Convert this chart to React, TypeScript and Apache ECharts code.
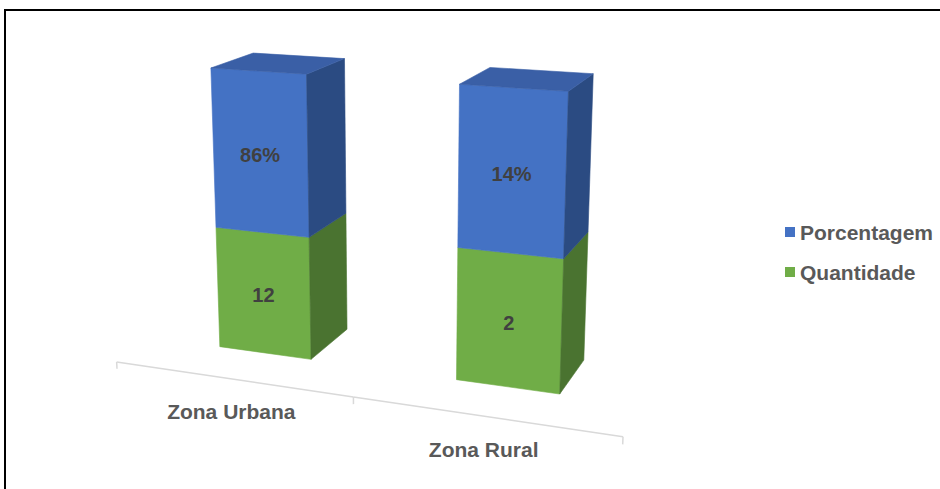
import { useEffect, useRef } from "react";
import * as echarts from "echarts";

// ---- data ----
const categories = ["Zona Urbana", "Zona Rural"];
const quantidadeLabels = ["12", "2"];
const porcentagemLabels = ["86%", "14%"];
// visible share of each column's height, in %
const quantidadeShare = [44, 46];
const porcentagemShare = [56, 54];
const legendOrder = ["Porcentagem", "Quantidade"];

// ---- view: perspective camera (3x4 projection, last entry 1)
// world: u = category units, h = 0..1 of the value axis, z = 0 front .. 1 back of a column
const CAM = [
  205.9184, -18.591833, 53.27382, 154.22333,
  10.307407, -276.9461, -11.07057, 337.47376,
  -0.058267316, -0.046504015, 0.054094706,
];
const BAR_WIDTH = 0.4; // gap width 150%
const FLOOR_FRONT_Z = -0.8;
const TICK_H = 0.025;

function project(X: number, Y: number, Z: number): number[] {
  const p = CAM;
  const w = p[8] * X + p[9] * Y + p[10] * Z + 1;
  return [(p[0] * X + p[1] * Y + p[2] * Z + p[3]) / w, (p[4] * X + p[5] * Y + p[6] * Z + p[7]) / w];
}

const FONT = "'Liberation Sans', Arial, sans-serif";

const COLORS = {
  Quantidade: { front: "#70AD47", side: "#4A7330", top: "#5E9439" },
  Porcentagem: { front: "#4472C4", side: "#2B4B82", top: "#3A5FA6" },
};

function makeSegmentRenderer(name: "Quantidade" | "Porcentagem", labels: string[], drawTop: boolean) {
  const col = COLORS[name];
  return (params: any, api: any) => {
    const i = api.value(0);
    const base = api.value(1);
    const top = api.value(2);
    const cs = params.coordSys;
    const band = api.size([1, 0])[0];
    const cTop = api.coord([i, top]);
    const cBase = api.coord([i, base]);
    const uC = (cTop[0] - cs.x) / band;
    const hTop = (cs.y + cs.height - cTop[1]) / cs.height;
    const hBase = (cs.y + cs.height - cBase[1]) / cs.height;
    const u0 = uC - BAR_WIDTH / 2;
    const u1 = uC + BAR_WIDTH / 2;
    const poly = (pts: number[][], fill: string) => ({
      type: "polygon",
      shape: { points: pts },
      style: { fill, stroke: fill, lineWidth: 0.6 },
    });
    const children: any[] = [
      poly([project(u0, hBase, 0), project(u1, hBase, 0), project(u1, hTop, 0), project(u0, hTop, 0)], col.front),
      poly([project(u1, hBase, 0), project(u1, hBase, 1), project(u1, hTop, 1), project(u1, hTop, 0)], col.side),
    ];
    if (drawTop) {
      children.push(
        poly([project(u0, hTop, 0), project(u1, hTop, 0), project(u1, hTop, 1), project(u0, hTop, 1)], col.top)
      );
    }
    const lp = project(uC, (hBase + hTop) / 2, 0);
    children.push({
      type: "text",
      x: lp[0],
      y: lp[1] + 2,
      style: {
        text: labels[i],
        fill: "#404040",
        font: `bold 20px ${FONT}`,
        align: "center",
        verticalAlign: "middle",
      },
    });
    return { type: "group", children };
  };
}

function renderAxis(params: any, api: any) {
  const i = api.value(0);
  const cs = params.coordSys;
  const band = api.size([1, 0])[0];
  const c = api.coord([i, 0]);
  const uC = (c[0] - cs.x) / band;
  const a = project(uC - 0.5, 0, FLOOR_FRONT_Z);
  const b = project(uC + 0.5, 0, FLOOR_FRONT_Z);
  const lineStyle = { stroke: "#D9D9D9", lineWidth: 1.5 };
  const children: any[] = [
    { type: "line", shape: { x1: a[0], y1: a[1], x2: b[0], y2: b[1] }, style: lineStyle },
  ];
  const ta = project(uC - 0.5, -TICK_H, FLOOR_FRONT_Z);
  children.push({ type: "line", shape: { x1: a[0], y1: a[1], x2: ta[0], y2: ta[1] }, style: lineStyle });
  if (i === categories.length - 1) {
    const tb = project(uC + 0.5, -TICK_H, FLOOR_FRONT_Z);
    children.push({ type: "line", shape: { x1: b[0], y1: b[1], x2: tb[0], y2: tb[1] }, style: lineStyle });
  }
  const m = project(uC, 0, FLOOR_FRONT_Z);
  children.push({
    type: "text",
    x: m[0],
    y: m[1] + 33,
    style: {
      text: categories[i],
      fill: "#595959",
      font: `bold 21px ${FONT}`,
      align: "center",
      verticalAlign: "middle",
    },
  });
  return { type: "group", children };
}

export default function App() {
  const ref = useRef<HTMLDivElement>(null);
  useEffect(() => {
    if (!ref.current) return;
    const chart = echarts.init(ref.current, undefined, { renderer: "svg" });
    const quantidadeData = categories.map((_, i) => [i, 0, quantidadeShare[i]]);
    const porcentagemData = categories.map((_, i) => [
      i,
      quantidadeShare[i],
      quantidadeShare[i] + porcentagemShare[i],
    ]);
    chart.setOption({
      animation: false,
      grid: { left: 0, right: 0, top: 0, bottom: 0 },
      xAxis: { type: "category", data: categories, show: false },
      yAxis: { type: "value", min: 0, max: 100, show: false },
      legend: {
        data: legendOrder,
        orient: "vertical",
        left: 785,
        top: 220,
        padding: 0,
        icon: "rect",
        itemWidth: 10,
        itemHeight: 10,
        itemGap: 16,
        selectedMode: false,
        textStyle: {
          color: "#595959",
          fontSize: 21,
          fontWeight: "bold",
          fontFamily: FONT,
          lineHeight: 24,
        },
      },
      graphic: [
        {
          type: "rect",
          shape: { x: 5, y: 10, width: 1000, height: 1000 },
          style: { fill: "none", stroke: "#000", lineWidth: 2 },
          silent: true,
        },
      ],
      series: [
        {
          type: "custom",
          name: "Quantidade",
          itemStyle: { color: COLORS.Quantidade.front },
          renderItem: makeSegmentRenderer("Quantidade", quantidadeLabels, false),
          data: quantidadeData,
          clip: false,
        },
        {
          type: "custom",
          name: "Porcentagem",
          itemStyle: { color: COLORS.Porcentagem.front },
          renderItem: makeSegmentRenderer("Porcentagem", porcentagemLabels, true),
          data: porcentagemData,
          clip: false,
        },
        {
          type: "custom",
          name: "eixo",
          renderItem: renderAxis,
          data: categories.map((_, i) => [i, 0]),
          clip: false,
          silent: true,
        },
      ],
    });
    return () => chart.dispose();
  }, []);
  return (
    <div
      ref={ref}
      style={{ position: "fixed", left: 0, top: 0, width: 940, height: 489, background: "#fff" }}
    />
  );
}
